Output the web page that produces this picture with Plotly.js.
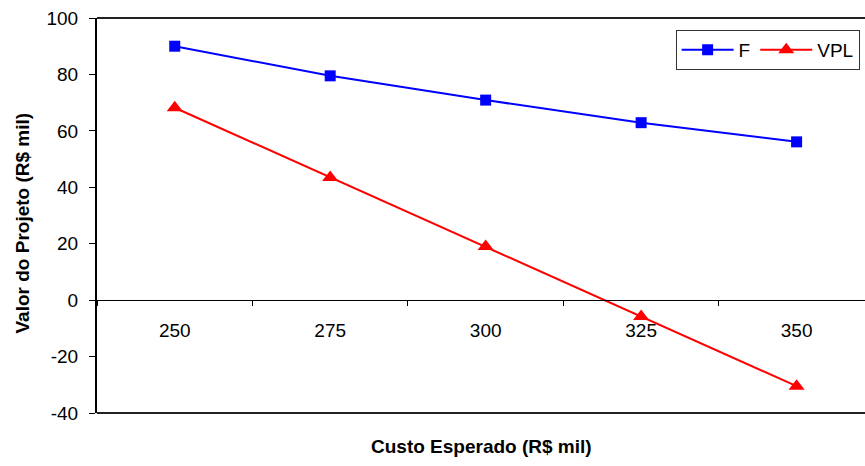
<!DOCTYPE html>
<html>
<head>
<meta charset="utf-8">
<script src="https://cdn.plot.ly/plotly-3.0.1.min.js"></script>
<style>html,body{margin:0;padding:0;background:#fff;}</style>
</head>
<body>
<div id="chart" style="width:865px;height:466px;"></div>
<script>
// Custo esperado (R$ mil) e valor do projeto em cada cenário
const categorias = ['250', '275', '300', '325', '350'];
const valoresF = [90.0, 79.5, 70.9, 62.9, 56.1];
const valoresVPL = [68.2, 43.5, 19.0, -5.8, -30.5];
const ticksY = [-40, -20, 0, 20, 40, 60, 80, 100];
const rotulosY = ['-40', '-20', '0', '20', '40', '60', '80', '100'];

const fonte = 'Liberation Sans, Arial, sans-serif';

const traces = [
  {
    x: categorias, y: valoresF, name: 'F', type: 'scatter', mode: 'lines+markers',
    line: {color: '#0000ff', width: 2},
    marker: {symbol: 'square', size: 11, color: '#0000ff'}
  },
  {
    x: categorias, y: valoresVPL, name: 'VPL', type: 'scatter', mode: 'lines+markers',
    line: {color: '#ff0000', width: 2},
    marker: {symbol: 'triangle-up', size: 14, color: '#ff0000'}
  }
];

const layout = {
  width: 865, height: 466,
  margin: {l: 97, r: 0, t: 18, b: 53},
  paper_bgcolor: '#ffffff', plot_bgcolor: '#ffffff',
  font: {family: fonte, size: 19, color: '#000'},
  showlegend: true,
  legend: {
    orientation: 'h', x: 0.993, xanchor: 'right', y: 0.97, yanchor: 'top',
    bordercolor: '#333', borderwidth: 1, bgcolor: '#fff',
    font: {family: fonte, size: 19, color: '#000'},
    itemwidth: 52, tracegroupgap: 0
  },
  xaxis: {
    type: 'category',
    range: [-0.5, 4.44],
    anchor: 'free', position: 40 / 140,
    showline: true, linecolor: '#000', linewidth: 1,
    ticks: 'outside', tickson: 'boundaries', ticklen: 5, tickcolor: '#000',
    ticklabelstandoff: 13,
    showgrid: false, zeroline: false,
    tickfont: {family: fonte, size: 19, color: '#000'}
  },
  yaxis: {
    range: [-40, 100], tickmode: 'array', tickvals: ticksY, ticktext: rotulosY,
    showline: true, linecolor: '#000', linewidth: 2,
    ticks: 'outside', ticklen: 6, tickcolor: '#000', ticklabelstandoff: 7,
    showgrid: false, zeroline: false,
    tickfont: {family: fonte, size: 19, color: '#000'}
  },
  annotations: [
    {text: 'Custo Esperado (R$ mil)', xref: 'paper', yref: 'paper', x: 0.5, y: -0.085,
     xanchor: 'center', yanchor: 'middle', showarrow: false,
     font: {family: fonte, size: 19, color: '#000', weight: 'bold'}},
    {text: 'Valor do Projeto (R$ mil)', xref: 'paper', yref: 'paper', x: -0.0975, y: 0.48,
     xanchor: 'center', yanchor: 'middle', showarrow: false, textangle: -90,
     font: {family: fonte, size: 19, color: '#000', weight: 'bold'}}
  ],
  shapes: [
    {type: 'line', xref: 'paper', yref: 'paper', x0: 0, x1: 1, y0: 1, y1: 1, line: {color: '#222', width: 2}},
    {type: 'line', xref: 'paper', yref: 'paper', x0: 0, x1: 1, y0: 0, y1: 0, line: {color: '#222', width: 2}}
  ]
};

Plotly.newPlot('chart', traces, layout, {displayModeBar: false, staticPlot: true});
</script>
</body>
</html>
